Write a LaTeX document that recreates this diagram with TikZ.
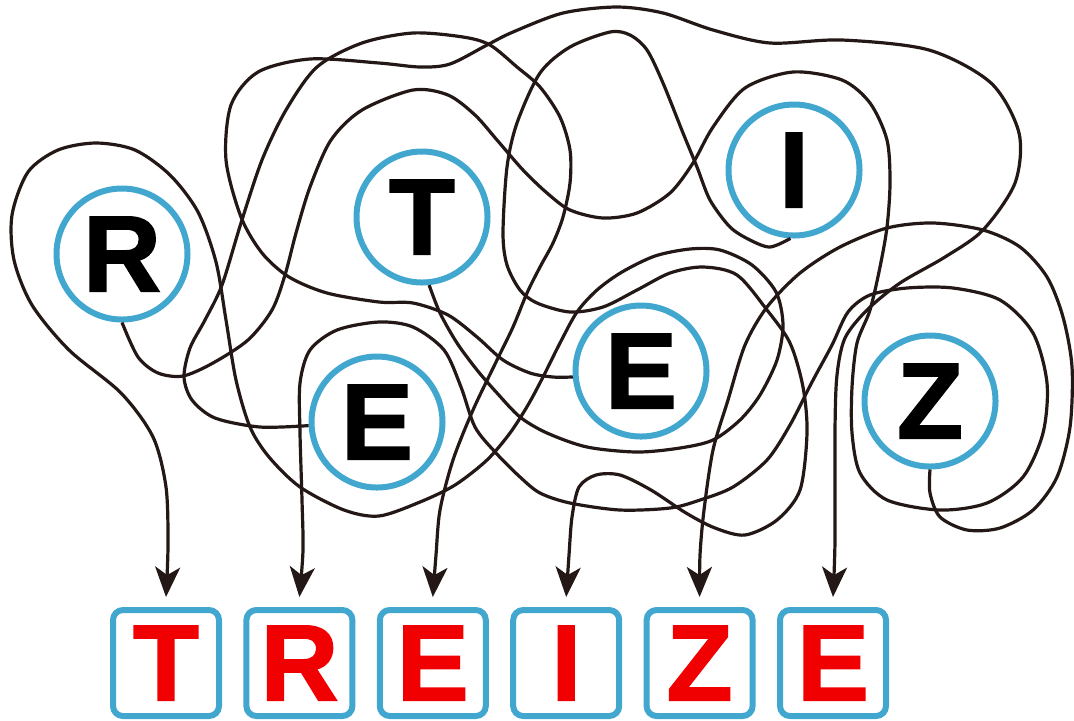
\documentclass[tikz,border=0pt]{standalone}
\usepackage{fontspec}
\setmainfont{Liberation Sans}[BoldFeatures={FakeBold=1.6}]
\usetikzlibrary{positioning,arrows.meta}
\definecolor{ringblue}{RGB}{66,167,207}
\definecolor{wirecol}{RGB}{35,24,21}
\definecolor{tilered}{RGB}{240,0,0}

\begin{document}
\begin{tikzpicture}[x=0.5pt,y=-0.5pt,
  ring/.style={circle,draw=ringblue,fill=white,line width=3pt,minimum size=65.5pt,inner sep=0pt,font=\bfseries\fontsize{54}{54}\selectfont},
  tile/.style={rectangle,rounded corners=5pt,draw=ringblue,line width=3pt,minimum size=53pt,inner sep=0pt,text=tilered,font=\bfseries\fontsize{54}{54}\selectfont},
  wire/.style={line width=1.6pt,draw=wirecol,-{Stealth[length=15pt,width=12.5pt,inset=4pt]}}]
	\useasboundingbox (0,0) rectangle (1074,720);
	\node [ring] (R) at (122,254) {R};
	\node [ring] (T) at (422,217) {T};
	\node [ring] (I) at (794,170) {I};
	\node [ring] (El) at (377,422) {E};
	\node [ring] (Em) at (641,371) {E};
	\node [ring] (Z) at (930,401) {Z};
	\node [tile] (b1) at (166,663) {T};
	\node [tile,right=10.7pt of b1] (b2) {R};
	\node [tile,right=10.7pt of b2] (b3) {E};
	\node [tile,right=10.7pt of b3] (b4) {I};
	\node [tile,right=10.7pt of b4] (b5) {Z};
	\node [tile,right=10.7pt of b5] (b6) {E};
	\coordinate (t1) at ([yshift=5pt]b1.north);
	\coordinate (t2) at ([yshift=5pt]b2.north);
	\coordinate (t3) at ([yshift=5pt]b3.north);
	\coordinate (t4) at ([yshift=5pt]b4.north);
	\coordinate (t5) at ([yshift=5pt]b5.north);
	\coordinate (t6) at ([yshift=5pt]b6.north);
	% T
	\draw [wire] plot [smooth] coordinates {(T.276) (440,313) (457,343) (477,370) (497,393) (520,417) (547,433) (587,447) (637,452) (680,448) (713,440) (740,420) (760,395) (777,360) (783,325) (776,292) (752,265) (720,250) (690,249) (655,256) (622,272) (597,290) (577,312) (560,343) (543,377) (528,405) (510,433) (487,460) (455,485) (420,502) (379,516) (344,510) (300,487) (269,457) (250,427) (236,380) (226,320) (216,262) (198,212) (170,175) (135,150) (96,143) (58,150) (28,172) (12,215) (14,260) (32,305) (69,350) (121,393) (153,437) (166,487) (168,545) (t1)};
	% R
	\draw [wire] plot [smooth] coordinates {(R.south) (138,357) (158,373) (183,376) (213,363) (248,340) (272,310) (285,275) (296,233) (310,187) (331,140) (362,110) (413,90) (448,95) (475,115) (497,140) (523,170) (547,193) (570,210) (603,218) (637,213) (670,193) (693,163) (713,127) (745,88) (793,72) (842,80) (870,103) (887,140) (890,183) (887,227) (880,267) (870,310) (857,343) (852,387) (852,433) (860,473) (887,500) (940,510) (987,503) (1023,477) (1043,433) (1047,383) (1033,333) (1000,300) (953,288) (907,288) (870,295) (848,312) (832,345) (812,382) (790,425) (767,460) (733,487) (700,500) (670,508) (620,510) (570,503) (540,493) (520,477) (496,453) (475,427) (461,387) (444,350) (413,327) (379,322) (337,330) (310,350) (300,383) (300,433) (302,500) (303,550) (t2)};
	% E left
	\draw [wire] plot [smooth] coordinates {(El.183) (260,427) (215,418) (192,400) (184,377) (190,348) (205,320) (222,285) (241,223) (262,160) (286,110) (317,67) (362,43) (413,33) (463,37) (490,45) (517,67) (540,87) (560,117) (570,150) (570,183) (563,217) (553,243) (540,267) (527,293) (513,327) (497,360) (473,410) (453,460) (440,510) (436,555) (t3)};
	% I
	\draw [wire] plot [smooth] coordinates {(I.267) (770,247) (750,240) (730,227) (710,200) (697,167) (683,133) (663,83) (647,50) (630,35) (610,32) (570,47) (540,73) (517,123) (507,167) (503,233) (507,265) (520,290) (537,303) (570,312) (603,307) (637,290) (670,273) (703,267) (737,275) (767,310) (790,343) (803,387) (807,433) (800,490) (777,520) (745,535) (715,528) (686,513) (651,490) (620,475) (596,475) (579,487) (572,517) (569,555) (t4)};
	% Z
	\draw [wire] plot [smooth] coordinates {(Z.south) (930,493) (940,517) (967,530) (1000,528) (1033,510) (1057,477) (1070,427) (1072,367) (1063,317) (1047,277) (1020,247) (983,230) (933,223) (887,228) (840,247) (800,273) (767,307) (745,345) (728,400) (713,450) (704,510) (700,555) (t5)};
	% E middle
	\draw [wire] plot [smooth] coordinates {(Em.185) (553,377) (530,373) (503,360) (477,337) (448,315) (413,303) (379,302) (327,293) (289,277) (262,253) (241,217) (226,160) (231,105) (258,72) (310,59) (379,63) (420,67) (450,64) (487,45) (513,32) (563,13) (617,7) (663,13) (713,30) (770,43) (842,40) (929,50) (991,83) (1019,133) (1015,183) (983,230) (945,257) (900,283) (867,310) (845,338) (837,375) (835,430) (835,540) (t6)};
\end{tikzpicture}
\end{document}
